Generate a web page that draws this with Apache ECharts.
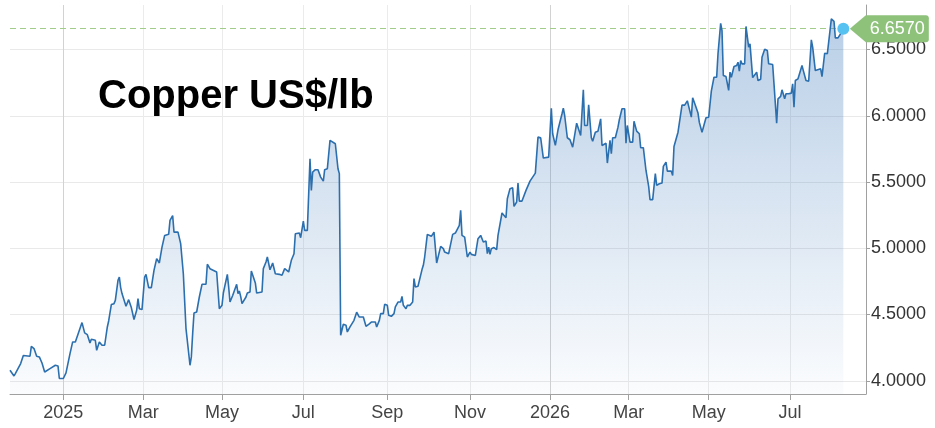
<!DOCTYPE html>
<html><head><meta charset="utf-8">
<script src="https://cdn.jsdelivr.net/npm/echarts@6/dist/echarts.min.js"></script>
<style>html,body{margin:0;padding:0;background:#fff}#c{width:935px;height:428px}</style>
</head><body><div id="c"></div>
<script>
const chartTitle = 'Copper US$/lb';

const dates = [
 '2024-11-23','2024-11-24','2024-11-26','2024-11-27','2024-11-28',
 '2024-12-01','2024-12-03','2024-12-08','2024-12-09','2024-12-11','2024-12-13','2024-12-15','2024-12-17','2024-12-18','2024-12-19','2024-12-23','2024-12-27','2024-12-29','2024-12-30',
 '2025-01-02','2025-01-04','2025-01-05','2025-01-07','2025-01-09','2025-01-11','2025-01-13','2025-01-16','2025-01-18','2025-01-20','2025-01-22','2025-01-23','2025-01-26','2025-01-27','2025-01-29','2025-01-31',
 '2025-02-02','2025-02-04','2025-02-05','2025-02-07','2025-02-09','2025-02-10','2025-02-12','2025-02-13','2025-02-14','2025-02-15','2025-02-16','2025-02-18','2025-02-19','2025-02-20','2025-02-22','2025-02-24','2025-02-26','2025-02-27','2025-02-28',
 '2025-03-02','2025-03-04','2025-03-05','2025-03-07','2025-03-09','2025-03-11','2025-03-13','2025-03-15','2025-03-16','2025-03-17','2025-03-19','2025-03-22','2025-03-23','2025-03-25','2025-03-26','2025-03-29','2025-03-31',
 '2025-04-01','2025-04-02','2025-04-04','2025-04-05','2025-04-07','2025-04-08','2025-04-09','2025-04-10','2025-04-12','2025-04-14','2025-04-16','2025-04-19','2025-04-20','2025-04-22','2025-04-23','2025-04-27','2025-04-29',
 '2025-05-01','2025-05-02','2025-05-03','2025-05-05','2025-05-06','2025-05-07','2025-05-09','2025-05-10','2025-05-12','2025-05-13','2025-05-14','2025-05-15','2025-05-16','2025-05-17','2025-05-19','2025-05-20','2025-05-22','2025-05-23','2025-05-24','2025-05-26','2025-05-27','2025-05-31',
 '2025-06-01','2025-06-03','2025-06-04','2025-06-06','2025-06-07','2025-06-08','2025-06-10','2025-06-11','2025-06-13','2025-06-15','2025-06-17','2025-06-18','2025-06-20','2025-06-21','2025-06-22','2025-06-24','2025-06-25','2025-06-28','2025-06-29',
 '2025-07-01','2025-07-02','2025-07-04','2025-07-06','2025-07-07','2025-07-08','2025-07-10','2025-07-12','2025-07-14','2025-07-16','2025-07-17','2025-07-19','2025-07-21','2025-07-22','2025-07-25','2025-07-26','2025-07-27','2025-07-28','2025-07-29','2025-07-31',
 '2025-08-02','2025-08-03','2025-08-05','2025-08-06','2025-08-08','2025-08-09','2025-08-10','2025-08-12','2025-08-13','2025-08-15','2025-08-17','2025-08-19','2025-08-21','2025-08-24','2025-08-25','2025-08-27','2025-08-28','2025-08-30','2025-08-31',
 '2025-09-02','2025-09-03','2025-09-05','2025-09-07','2025-09-08','2025-09-10','2025-09-12','2025-09-13','2025-09-14','2025-09-16','2025-09-17','2025-09-19','2025-09-21','2025-09-22','2025-09-23','2025-09-25','2025-09-26','2025-09-28','2025-09-29','2025-09-30',
 '2025-10-02','2025-10-03','2025-10-05','2025-10-07','2025-10-09','2025-10-10','2025-10-12','2025-10-14','2025-10-15','2025-10-18','2025-10-19','2025-10-21','2025-10-23','2025-10-24','2025-10-26','2025-10-27','2025-10-28','2025-10-30','2025-10-31',
 '2025-11-01','2025-11-03','2025-11-04','2025-11-07','2025-11-09','2025-11-11','2025-11-12','2025-11-13','2025-11-15','2025-11-16','2025-11-17','2025-11-18','2025-11-19','2025-11-21','2025-11-23','2025-11-24','2025-11-25','2025-11-27','2025-11-28','2025-11-30',
 '2025-12-01','2025-12-03','2025-12-05','2025-12-06','2025-12-08','2025-12-09','2025-12-10','2025-12-12','2025-12-13','2025-12-15','2025-12-18','2025-12-20','2025-12-22','2025-12-24','2025-12-26','2025-12-28',
 '2026-01-01','2026-01-03','2026-01-04','2026-01-06','2026-01-08','2026-01-09','2026-01-11','2026-01-12','2026-01-13','2026-01-15','2026-01-17','2026-01-19','2026-01-20','2026-01-22','2026-01-23','2026-01-25','2026-01-27','2026-01-28','2026-01-30','2026-01-31',
 '2026-02-02','2026-02-03','2026-02-05','2026-02-07','2026-02-09','2026-02-10','2026-02-11','2026-02-13','2026-02-14','2026-02-16','2026-02-17','2026-02-18','2026-02-20','2026-02-22','2026-02-23','2026-02-25','2026-02-27','2026-02-28',
 '2026-03-01','2026-03-03','2026-03-05','2026-03-06','2026-03-08','2026-03-10','2026-03-11','2026-03-13','2026-03-15','2026-03-17','2026-03-18','2026-03-20','2026-03-22','2026-03-23','2026-03-25','2026-03-27','2026-03-28','2026-03-30','2026-03-31',
 '2026-04-03','2026-04-04','2026-04-05','2026-04-06','2026-04-08','2026-04-09','2026-04-11','2026-04-13','2026-04-15','2026-04-16','2026-04-18','2026-04-19','2026-04-21','2026-04-23','2026-04-24','2026-04-26','2026-04-27','2026-04-29',
 '2026-05-01','2026-05-03','2026-05-04','2026-05-05','2026-05-07','2026-05-08','2026-05-10','2026-05-11','2026-05-12','2026-05-14','2026-05-16','2026-05-17','2026-05-18','2026-05-20','2026-05-22','2026-05-23','2026-05-24','2026-05-25','2026-05-26','2026-05-28','2026-05-29','2026-05-31',
 '2026-06-01','2026-06-03','2026-06-04','2026-06-06','2026-06-07','2026-06-09','2026-06-10','2026-06-12','2026-06-14','2026-06-15','2026-06-18','2026-06-19','2026-06-21','2026-06-22','2026-06-24','2026-06-25','2026-06-27','2026-06-28','2026-06-30',
 '2026-07-02','2026-07-03','2026-07-04','2026-07-05','2026-07-07','2026-07-08','2026-07-10','2026-07-11','2026-07-13','2026-07-15','2026-07-17','2026-07-18','2026-07-20','2026-07-21','2026-07-24','2026-07-25','2026-07-27','2026-07-28','2026-07-29','2026-07-31',
 '2026-08-01','2026-08-03','2026-08-04','2026-08-06','2026-08-08','2026-08-10'
];

const prices = [
 4.079,4.067,4.036,4.054,4.049,
 4.130,4.190,4.185,4.260,4.243,4.185,4.180,4.134,4.145,4.066,4.092,4.117,4.112,4.017,
 4.017,4.059,4.059,4.205,4.293,4.293,4.351,4.439,4.361,4.348,4.285,4.313,4.305,4.230,4.293,4.268,
 4.268,4.406,4.451,4.575,4.582,4.607,4.758,4.783,4.703,4.658,4.652,4.562,4.549,4.612,4.552,4.462,4.532,4.620,4.544,
 4.537,4.783,4.803,4.703,4.703,4.833,4.922,4.889,4.896,5.009,5.097,5.105,5.210,5.246,5.122,5.122,5.035,
 5.030,4.808,4.394,4.388,4.117,4.180,4.356,4.511,4.519,4.632,4.728,4.728,4.879,4.846,4.854,4.821,4.544,
 4.569,4.662,4.662,4.803,4.708,4.594,4.643,4.645,4.728,4.658,4.677,4.637,4.582,4.582,4.632,4.662,4.670,4.828,4.828,4.738,4.662,4.670,
 4.846,4.896,4.934,4.838,4.838,4.889,4.808,4.821,4.803,4.796,4.846,4.846,4.821,4.821,4.909,4.959,5.110,5.115,5.080,
 5.205,5.135,5.135,5.676,5.437,5.575,5.593,5.593,5.537,5.507,5.593,5.600,5.814,5.801,5.789,5.784,5.600,5.563,4.343,4.426,
 4.419,4.368,4.406,4.394,4.456,4.456,4.517,4.481,4.486,4.481,4.411,4.426,4.443,4.443,4.406,4.456,4.507,4.507,4.577,
 4.569,4.494,4.486,4.507,4.557,4.594,4.594,4.637,4.569,4.544,4.569,4.569,4.594,4.771,4.708,4.713,4.708,4.839,4.871,4.934,
 5.105,5.097,5.090,5.122,4.889,4.889,5.014,4.997,4.971,4.959,4.971,5.105,5.115,5.115,5.173,5.286,5.097,5.084,5.084,
 4.934,4.971,4.954,4.946,5.072,5.097,5.084,5.047,5.054,4.959,5.009,4.954,4.997,5.005,4.990,5.097,5.097,5.266,5.266,5.231,
 5.374,5.450,5.457,5.316,5.349,5.492,5.356,5.356,5.361,5.437,5.507,5.537,5.567,5.839,5.834,5.681,
 5.688,6.057,5.864,5.776,5.894,5.902,6.015,6.057,6.002,5.834,5.819,5.763,5.776,5.944,5.944,5.851,6.196,5.927,5.927,6.082,
 5.834,5.808,5.876,5.884,5.977,5.776,5.789,5.793,5.643,5.814,5.713,5.834,5.834,5.914,5.970,6.053,6.053,5.793,
 5.927,5.801,5.801,5.959,5.884,5.864,5.759,5.759,5.587,5.467,5.367,5.367,5.563,5.475,5.487,5.492,5.618,5.650,5.582,
 5.582,5.550,5.768,5.759,5.876,5.884,6.080,6.080,6.113,6.110,5.990,6.136,6.080,6.020,5.950,5.876,5.869,5.985,
 5.989,6.186,6.191,6.291,6.291,6.468,6.698,6.643,6.304,6.296,6.191,6.329,6.291,6.372,6.379,6.404,6.336,6.417,6.392,6.392,6.674,6.518,
 6.543,6.288,6.288,6.329,6.266,6.276,6.442,6.502,6.492,6.392,6.387,6.241,5.944,6.128,6.146,6.196,6.128,6.166,6.166,
 6.171,6.241,6.065,6.266,6.279,6.279,6.379,6.341,6.266,6.261,6.573,6.518,6.341,6.354,6.354,6.296,6.472,6.472,6.468,6.643,
 6.731,6.713,6.588,6.588,6.620,6.657
];

const yTickValues = [4.0, 4.5, 5.0, 5.5, 6.0, 6.5];
const xTickDates = ['2025-01-02','2025-03-03','2025-05-01','2025-07-01','2025-09-02','2025-11-03','2026-01-02','2026-03-02','2026-05-01','2026-07-01'];
const xTickLabels = ['2025','Mar','May','Jul','Sep','Nov','2026','Mar','May','Jul'];
const xRange = ['2024-11-23', '2026-08-27'];
const yRange = [3.9, 6.836];
const lastPrice = prices[prices.length - 1];

if (dates.length !== prices.length) console.error('length mismatch', dates.length, prices.length);

const ts = s => { const p = s.split('-').map(Number); return Date.UTC(p[0], p[1] - 1, p[2]); };
const seriesData = dates.map((d, i) => [ts(d), prices[i]]);
const tickTs = xTickDates.map(ts);
const lastTs = ts(dates[dates.length - 1]);
const FONT = '"Liberation Sans", Arial, sans-serif';

const xGridColors = xTickLabels.map(l => /^\d{4}$/.test(l) ? '#d2d2d2' : '#ebebeb');

const chart = echarts.init(document.getElementById('c'), null, {renderer: 'canvas'});
chart.setOption({
  animation: false,
  backgroundColor: '#ffffff',
  title: {
    text: chartTitle, left: 93, top: 72,
    textStyle: {fontSize: 40, fontWeight: 'bold', color: '#000', fontFamily: FONT}
  },
  grid: {left: 10, right: 69, top: 5, bottom: 34, containLabel: false},
  xAxis: {
    type: 'value',
    min: ts(xRange[0]), max: ts(xRange[1]),
    axisLine: {show: true, lineStyle: {color: '#a0a0a0', width: 1}},
    axisTick: {show: true, customValues: tickTs, length: 6, lineStyle: {color: '#a0a0a0'}},
    axisLabel: {
      customValues: tickTs, margin: 10, fontSize: 18, color: '#444', fontFamily: FONT,
      formatter: v => { const i = tickTs.indexOf(v); return i >= 0 ? xTickLabels[i] : ''; }
    },
    splitLine: {show: true, lineStyle: {color: xGridColors, width: 1}}
  },
  yAxis: {
    type: 'value', position: 'right',
    min: yRange[0], max: yRange[1],
    axisLine: {show: true, lineStyle: {color: '#a0a0a0', width: 1}},
    axisTick: {show: true, customValues: yTickValues, length: 4, lineStyle: {color: '#a0a0a0'}},
    axisLabel: {
      customValues: yTickValues, margin: 5, fontSize: 18, color: '#333', fontFamily: FONT,
      formatter: v => v.toFixed(4)
    },
    splitLine: {show: true, lineStyle: {color: '#e9e9e9', width: 1}}
  },
  series: [{
    type: 'line',
    data: seriesData,
    showSymbol: false,
    symbol: 'none',
    lineStyle: {color: '#2c6fae', width: 1.6},
    areaStyle: {
      color: new echarts.graphic.LinearGradient(0, 0, 0, 1, [
        {offset: 0, color: 'rgba(56,118,186,0.5)'},
        {offset: 1, color: 'rgba(56,118,186,0.03)'}
      ])
    },
    markLine: {
      silent: true, symbol: 'none', z: 3,
      label: {show: false},
      lineStyle: {type: [6, 4], color: '#a2cc8a', width: 1},
      data: [[{coord: [ts(xRange[0]), lastPrice]}, {coord: [lastTs, lastPrice]}]]
    },
    markPoint: {
      silent: true, z: 10,
      data: [
        {
          coord: [lastTs, lastPrice], symbol: 'circle', symbolSize: 12,
          itemStyle: {color: '#56c2f1'}, label: {show: false}
        },
        {
          coord: [lastTs, lastPrice],
          symbol: 'path://M0,13.5 L16,0 L76,0 Q79,0 79,3 L79,24 Q79,27 76,27 L16,27 Z',
          symbolSize: [79, 27], symbolKeepAspect: false, symbolOffset: [46, 0],
          itemStyle: {color: '#8ec27b'},
          label: {
            show: true, position: 'inside', offset: [8, 0], color: '#fff',
            fontSize: 18, fontFamily: FONT, formatter: () => lastPrice.toFixed(4)
          }
        }
      ]
    }
  }]
});
</script>
</body></html>
